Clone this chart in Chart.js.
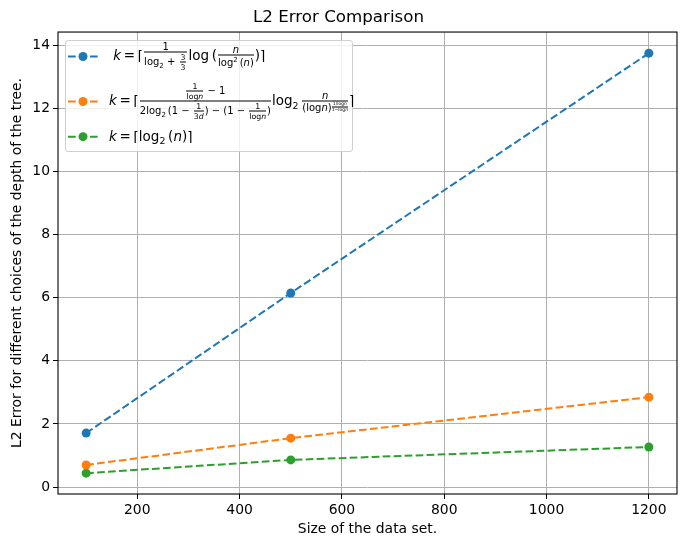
<!DOCTYPE html>
<html lang="en">

<head>
  <meta charset="UTF-8">
  <title>L2 Error Comparison</title>
  <style>
    body { margin: 0; background: #fff; }
    #wrap { position: relative; width: 686px; height: 547px; }
    #legend {
      position: absolute; left: 65px; top: 40px; width: 286px; height: 110px;
      border: 1px solid #d0d0d0; border-radius: 3px; background: rgba(255,255,255,0.8);
      font-family: "DejaVu Sans", sans-serif; font-size: 13.5px; color: #000;
    }
    .row { position: absolute; left: 0; transform: translateY(-50%); display: flex; align-items: center; white-space: nowrap; }
    .row svg { margin-left: 2px; margin-right: 11px; }
    .frac { display: inline-flex; flex-direction: column; vertical-align: middle; text-align: center; font-size: 0.74em; margin: 0 1px; }
    .frac > span:first-child { border-bottom: 1px solid #000; padding: 0 1px; }
    .frac .frac { font-size: 0.78em; }
    .tiny { display: inline-flex; flex-direction: column; text-align: center; font-size: 4.5px; line-height: 1; vertical-align: 6px; }
    .tiny > span:first-child { border-bottom: 0.5px solid #000; }
    i { font-style: italic; }
    sub, sup { font-size: 0.7em; }
  </style>
</head>

<body>
  <div id="wrap">
    <canvas id="chart-canvas" width="686" height="547"></canvas>
    <div id="legend"></div>
  </div>

  <script src="https://cdn.jsdelivr.net/npm/chart.js@4.4.8/dist/chart.umd.min.js"></script>
  <script>
    // data
    const sizes = [100, 500, 1200];
    const errFormula1 = [1.71, 6.15, 13.75];
    const errFormula2 = [0.70, 1.55, 2.85];
    const errLog2 = [0.44, 0.86, 1.27];
    const seriesColors = ['#1f77b4', '#ff7f0e', '#2ca02c'];
    const seriesNames = [
      'k = ⌈1/(log₂ + 3/3) log(n / log²(n))⌉',
      'k = ⌈(1/log n − 1)/(2log₂(1 − 1/3d) − (1 − 1/log n)) log₂ n/(log n)^…⌉',
      'k = ⌈log₂(n)⌉'
    ];
    // legend entries as typeset math
    const legendHtml = [
      '&nbsp;<i>k</i>&thinsp;=&thinsp;⌈<span class="frac"><span>1</span><span>log<sub>2</sub> + <span class="frac"><span>3</span><span>3</span></span></span></span>log&thinsp;(<span class="frac"><span><i>n</i></span><span>log<sup>2</sup>&thinsp;(<i>n</i>)</span></span>)⌉',
      '<i>k</i>&thinsp;=&thinsp;⌈<span class="frac"><span><span class="frac"><span>1</span><span>log<i>n</i></span></span> − 1</span><span>2log<sub>2</sub>&thinsp;(1 − <span class="frac"><span>1</span><span>3<i>d</i></span></span>) − (1 − <span class="frac"><span>1</span><span>log<i>n</i></span></span>)</span></span>log<sub>2</sub>&thinsp;<span class="frac"><span><i>n</i></span><span>(log<i>n</i>)<span class="tiny"><span>1/log<i>n</i></span><span>1−log<i>n</i></span></span></span></span>⌉',
      '<i>k</i>&thinsp;=&thinsp;⌈log<sub>2</sub>&thinsp;(<i>n</i>)⌉'
    ];
    const legendRowY = [15, 60, 96];
    const xTicks = [200, 400, 600, 800, 1000, 1200];
    const yTicks = [0, 2, 4, 6, 8, 10, 12, 14];
    const xMin = 45, xMax = 1255;
    const yMin = -0.22, yMax = 14.42;

    const allSeries = [errFormula1, errFormula2, errLog2];

    // black frame around the plot area, like matplotlib spines
    const framePlugin = {
      id: 'frame',
      afterDraw(chart) {
        const { ctx, chartArea: a } = chart;
        ctx.save();
        ctx.strokeStyle = '#000';
        ctx.lineWidth = 1.1;
        ctx.strokeRect(a.left, a.top, a.right - a.left, a.bottom - a.top);
        ctx.restore();
      }
    };

    const font = { family: 'DejaVu Sans', size: 13.9 };

    new Chart(document.getElementById('chart-canvas'), {
      type: 'line',
      data: {
        datasets: allSeries.map((vals, i) => ({
          label: seriesNames[i],
          data: sizes.map((x, j) => ({ x: x, y: vals[j] })),
          borderColor: seriesColors[i],
          backgroundColor: seriesColors[i],
          borderWidth: 2,
          borderDash: [7.7, 3.3],
          pointRadius: 4.5,
          pointBorderWidth: 0,
          pointHoverRadius: 4.5,
          tension: 0,
          fill: false
        }))
      },
      options: {
        responsive: false,
        animation: false,
        layout: { padding: { left: 0, right: 9, top: 0, bottom: 0 } },
        plugins: {
          legend: { display: false },
          tooltip: { enabled: false },
          title: {
            display: true,
            text: 'L2 Error Comparison',
            color: '#000',
            font: { family: 'DejaVu Sans', size: 16.7, weight: 'normal' },
            padding: { top: 8, bottom: 4 }
          }
        },
        scales: {
          x: {
            type: 'linear',
            min: xMin,
            max: xMax,
            afterFit(scale) { scale.height = 53; },
            afterBuildTicks(scale) { scale.ticks = xTicks.map(v => ({ value: v })); },
            ticks: { color: '#000', font: font, padding: 3, includeBounds: false, maxRotation: 0, callback: v => String(v) },
            grid: { color: '#b0b0b0', lineWidth: 1, tickColor: '#000', tickLength: 5 },
            border: { display: false },
            title: { display: true, text: 'Size of the data set.', color: '#000', font: font, padding: { top: 0, bottom: 9 } }
          },
          y: {
            type: 'linear',
            min: yMin,
            max: yMax,
            afterFit(scale) { scale.width = 58; },
            afterBuildTicks(scale) { scale.ticks = yTicks.map(v => ({ value: v })); },
            ticks: { color: '#000', font: font, padding: 3, includeBounds: false, callback: v => String(v) },
            grid: { color: '#b0b0b0', lineWidth: 1, tickColor: '#000', tickLength: 5 },
            border: { display: false },
            title: { display: true, text: 'L2 Error for different choices of the depth of the tree.', color: '#000', font: font, padding: { top: 9, bottom: 0 } }
          }
        }
      },
      plugins: [framePlugin]
    });

    // html legend so the formulas can be typeset
    const legend = document.getElementById('legend');
    legendHtml.forEach((html, i) => {
      const row = document.createElement('div');
      row.className = 'row';
      row.style.top = legendRowY[i] + 'px';
      const c = seriesColors[i];
      row.innerHTML =
        '<svg width="30" height="12"><line x1="0" y1="6" x2="30" y2="6" stroke="' + c +
        '" stroke-width="2" stroke-dasharray="7.7,3.3"/><circle cx="15" cy="6" r="4.5" fill="' + c + '"/></svg>' +
        '<span>' + html + '</span>';
      legend.appendChild(row);
    });
  </script>
</body>

</html>
